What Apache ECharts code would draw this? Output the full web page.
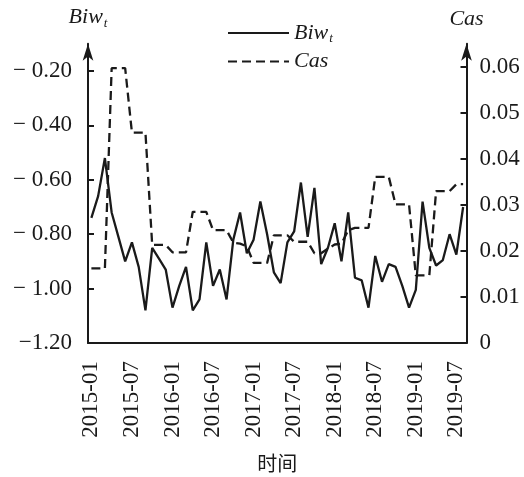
<!DOCTYPE html>
<html>
<head>
<meta charset="utf-8">
<script src="https://cdn.jsdelivr.net/npm/echarts@6/dist/echarts.min.js"></script>
<style>
  html, body { margin: 0; padding: 0; background: #fff; }
  #chart { width: 524px; height: 477px; }
</style>
</head>
<body>
<div id="chart"></div>
<script>
// 月份
var months = [
  '2015-01','2015-02','2015-03','2015-04','2015-05','2015-06','2015-07','2015-08','2015-09','2015-10','2015-11','2015-12',
  '2016-01','2016-02','2016-03','2016-04','2016-05','2016-06','2016-07','2016-08','2016-09','2016-10','2016-11','2016-12',
  '2017-01','2017-02','2017-03','2017-04','2017-05','2017-06','2017-07','2017-08','2017-09','2017-10','2017-11','2017-12',
  '2018-01','2018-02','2018-03','2018-04','2018-05','2018-06','2018-07','2018-08','2018-09','2018-10','2018-11','2018-12',
  '2019-01','2019-02','2019-03','2019-04','2019-05','2019-06','2019-07','2019-08'
];
var biw = [
  -0.74, -0.66, -0.52, -0.72, -0.81, -0.90, -0.83, -0.92, -1.08, -0.85, -0.89, -0.93,
  -1.07, -0.99, -0.92, -1.08, -1.04, -0.83, -0.99, -0.93, -1.04, -0.82, -0.72, -0.87,
  -0.82, -0.68, -0.80, -0.94, -0.98, -0.83, -0.79, -0.61, -0.81, -0.63, -0.91, -0.85,
  -0.76, -0.90, -0.72, -0.96, -0.97, -1.07, -0.88, -0.975, -0.91, -0.92, -0.99, -1.07,
  -1.005, -0.68, -0.85, -0.915, -0.895, -0.80, -0.875, -0.70
];
var cas = [
  0.0162, 0.0162, 0.0162, 0.0597, 0.0597, 0.0597, 0.0457, 0.0457, 0.0457, 0.0213, 0.0213, 0.0213,
  0.0197, 0.0197, 0.0197, 0.0285, 0.0285, 0.0285, 0.0245, 0.0245, 0.0245, 0.0218, 0.0216, 0.0210,
  0.0174, 0.0174, 0.0174, 0.0234, 0.0234, 0.0234, 0.0220, 0.0220, 0.0220, 0.0195, 0.0195, 0.0205,
  0.0214, 0.0216, 0.0245, 0.0250, 0.0250, 0.0250, 0.0361, 0.0361, 0.0361, 0.0301, 0.0301, 0.0301,
  0.0147, 0.0147, 0.0147, 0.0330, 0.0330, 0.0330, 0.0345, 0.0345
];
var leftTicks = [-1.2, -1.0, -0.8, -0.6, -0.4, -0.2];
var rightTicks = [0, 0.01, 0.02, 0.03, 0.04, 0.05, 0.06];

var serif = 'Liberation Serif';
var ink = '#1a1a1a';
var nameRich = {
  i: { fontFamily: serif, fontStyle: 'italic', fontSize: 22, color: ink },
  s: { fontFamily: serif, fontStyle: 'italic', fontSize: 13, color: ink, padding: [12, 0, 0, 1] }
};

var chart = echarts.init(document.getElementById('chart'));
var option = {
  animation: false,
  color: [ink, ink],
  grid: { left: 88, right: 57.5, top: 43.8, bottom: 134, outerBoundsMode: 'none', containLabel: false },
  legend: {
    orient: 'vertical',
    left: 222,
    top: 17,
    itemWidth: 61,
    itemHeight: 12,
    itemGap: 5,
    itemStyle: { opacity: 0 },
    lineStyle: { opacity: 1 },
    textStyle: { fontFamily: serif, fontSize: 22, color: ink, rich: nameRich },
    formatter: function (name) {
      return name === 'Biw' ? '{i|Biw}{s|t}' : '{i|Cas}';
    },
    data: ['Biw', 'Cas']
  },
  xAxis: {
    type: 'category',
    data: months,
    boundaryGap: true,
    name: '时间',
    nameLocation: 'middle',
    nameGap: 110,
    nameTextStyle: { fontFamily: 'Noto Sans CJK SC', fontSize: 20, color: ink },
    axisLine: { lineStyle: { color: ink, width: 2 } },
    axisTick: { inside: true, length: 7, interval: 5, lineStyle: { color: ink, width: 2 } },
    axisLabel: {
      interval: 5,
      rotate: 90,
      margin: 18,
      padding: [0, 0, 18, 0],
      fontFamily: serif,
      fontSize: 23,
      color: ink
    },
    splitLine: { show: false }
  },
  yAxis: [
    {
      type: 'value',
      min: -1.2,
      max: -0.1,
      position: 'left',
      name: '{i|Biw}{s|t}',
      nameLocation: 'end',
      nameGap: 14,
      nameTextStyle: { rich: nameRich },
      axisLine: { show: true, symbol: ['none', 'arrow'], symbolSize: [8, 17], lineStyle: { color: ink, width: 2 } },
      axisTick: { show: true, inside: true, length: 6, customValues: leftTicks, lineStyle: { color: ink, width: 2 } },
      axisLabel: {
        customValues: leftTicks,
        margin: 16,
        fontFamily: serif,
        fontSize: 23,
        color: ink,
        formatter: function (v) {
          if (Math.abs(v + 1.2) < 1e-6) return '\u22121.20';
          return '\u2212 ' + Math.abs(v).toFixed(2);
        }
      },
      splitLine: { show: false }
    },
    {
      type: 'value',
      min: 0,
      max: 0.065,
      position: 'right',
      name: '{i|Cas}',
      nameLocation: 'end',
      nameGap: 14,
      nameTextStyle: { rich: nameRich },
      axisLine: { show: true, symbol: ['none', 'arrow'], symbolSize: [8, 17], lineStyle: { color: ink, width: 2 } },
      axisTick: { show: true, inside: true, length: 6, customValues: rightTicks, lineStyle: { color: ink, width: 2 } },
      axisLabel: {
        customValues: rightTicks,
        margin: 13,
        fontFamily: serif,
        fontSize: 23,
        color: ink,
        formatter: function (v) {
          return v === 0 ? '0' : v.toFixed(2);
        }
      },
      splitLine: { show: false }
    }
  ],
  series: [
    {
      name: 'Biw',
      type: 'line',
      yAxisIndex: 0,
      data: biw,
      symbol: 'none',
      itemStyle: { color: ink },
      lineStyle: { color: ink, width: 2.3 }
    },
    {
      name: 'Cas',
      type: 'line',
      yAxisIndex: 1,
      data: cas,
      symbol: 'none',
      itemStyle: { color: ink },
      lineStyle: { color: ink, width: 2.3, type: [9, 5] }
    }
  ]
};
chart.setOption(option);
</script>
</body>
</html>
